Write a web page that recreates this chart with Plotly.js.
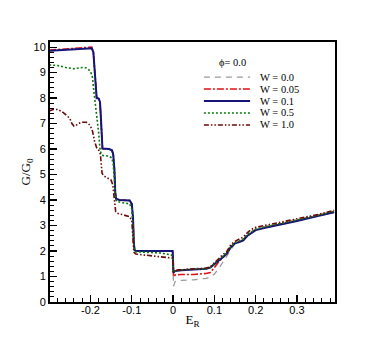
<!DOCTYPE html>
<html>
<head>
<meta charset="utf-8">
<script src="https://cdn.plot.ly/plotly-3.0.1.min.js"></script>
<style>
  body { margin: 0; background: #fff; }
  #graph { width: 382px; height: 340px; }
</style>
</head>
<body>
<div id="graph"></div>
<script>
// G/G0 versus E_R for several disorder strengths W, phi = 0.0

// shared step part (W = 0.0 and W = 0.1 lie on top of each other for E_R < 0)
var eNeg  = [-0.3, -0.25, -0.21, -0.197, -0.193, -0.19, -0.187, -0.185, -0.18, -0.177, -0.175, -0.173, -0.171,
             -0.155, -0.148, -0.145, -0.142, -0.14, -0.138, -0.13, -0.105, -0.1, -0.097, -0.095, -0.093, -0.09, -0.05, -0.001];
var gNeg  = [9.85, 9.9, 9.93, 9.95, 9.8, 9.0, 8.1, 8.0, 7.98, 7.85, 7.3, 6.2, 6.02,
             6.0, 5.95, 5.8, 5.2, 4.3, 4.05, 4.0, 3.98, 3.85, 3.3, 2.3, 2.03, 2.0, 2.0, 2.0];
var gNegRed = [9.88, 9.93, 9.98, 10.0, 9.8, 9.0, 8.1, 8.0, 7.98, 7.85, 7.3, 6.2, 6.02,
             6.0, 5.95, 5.8, 5.2, 4.3, 4.05, 4.0, 3.98, 3.85, 3.3, 2.3, 2.03, 2.0, 2.0, 2.0];

// E_R > 0 branch
var ePos   = [0.001, 0.005, 0.02, 0.05, 0.08, 0.09, 0.1, 0.11, 0.12, 0.13, 0.14, 0.15, 0.16, 0.17, 0.18, 0.19, 0.2, 0.22, 0.25, 0.3, 0.35, 0.39];
var gPos00 = [0.62, 0.8, 0.85, 0.87, 0.93, 0.98, 1.1, 1.3, 1.55, 1.8, 2.1, 2.3, 2.35, 2.42, 2.6, 2.72, 2.82, 2.9, 3.0, 3.18, 3.37, 3.52];
var gPos05 = [1.0, 1.06, 1.08, 1.08, 1.12, 1.16, 1.35, 1.57, 1.74, 1.89, 2.16, 2.31, 2.37, 2.44, 2.62, 2.74, 2.84, 2.92, 3.02, 3.2, 3.39, 3.54];
var gPos10 = [1.15, 1.22, 1.25, 1.28, 1.3, 1.35, 1.5, 1.62, 1.75, 1.9, 2.15, 2.3, 2.35, 2.42, 2.6, 2.72, 2.82, 2.9, 3.0, 3.18, 3.37, 3.52];
var gPos50 = [1.15, 1.22, 1.26, 1.29, 1.31, 1.36, 1.52, 1.66, 1.79, 1.93, 2.18, 2.33, 2.39, 2.47, 2.65, 2.77, 2.86, 2.94, 3.04, 3.22, 3.4, 3.56];

// W = 0.5
var e50 = [-0.3, -0.28, -0.26, -0.24, -0.22, -0.21, -0.2, -0.195, -0.192, -0.189, -0.186, -0.183, -0.18, -0.177, -0.174,
           -0.17, -0.155, -0.148, -0.145, -0.142, -0.14, -0.137, -0.125, -0.105, -0.1, -0.097, -0.095, -0.092,
           -0.08, -0.06, -0.03, -0.005, -0.001];
var g50 = [9.3, 9.28, 9.2, 9.15, 9.2, 9.18, 9.05, 8.8, 8.3, 7.9, 7.6, 7.2, 6.6, 6.0, 5.8,
           5.75, 5.72, 5.65, 5.4, 4.8, 4.1, 3.95, 3.9, 3.85, 3.65, 3.0, 2.2, 1.97,
           1.96, 1.95, 1.92, 1.85, 1.8];

// W = 1.0
var e100 = [-0.3, -0.29, -0.28, -0.27, -0.26, -0.25, -0.245, -0.24, -0.235, -0.23, -0.22, -0.21, -0.205, -0.2, -0.195,
            -0.19, -0.185, -0.18, -0.176, -0.174, -0.172, -0.168, -0.16, -0.15, -0.146, -0.142, -0.139, -0.135, -0.12,
            -0.105, -0.1, -0.097, -0.095, -0.09, -0.07, -0.04, -0.01, -0.001,
            0.001, 0.01, 0.05, 0.08, 0.09, 0.1, 0.11, 0.12, 0.13, 0.14, 0.15, 0.16, 0.17, 0.18, 0.19, 0.2, 0.22, 0.25, 0.3, 0.35, 0.39];
var g100 = [7.5, 7.55, 7.55, 7.48, 7.35, 7.2, 7.0, 6.9, 6.92, 7.0, 7.05, 7.05, 7.0, 6.9, 6.7,
            6.3, 6.05, 5.95, 5.8, 5.4, 5.05, 4.95, 4.88, 4.78, 4.6, 4.0, 3.55, 3.48, 3.42,
            3.35, 3.2, 2.5, 1.95, 1.88, 1.85, 1.8, 1.75, 1.72,
            1.2, 1.25, 1.3, 1.33, 1.38, 1.55, 1.72, 1.85, 1.98, 2.25, 2.38, 2.45, 2.55, 2.72, 2.85, 2.93, 3.0, 3.1, 3.27, 3.43, 3.6];

var names  = ['W = 0.0', 'W = 0.05', 'W = 0.1', 'W = 0.5', 'W = 1.0'];
var colors = ['#9a9a9a', '#e01010', '#14147a', '#0a7a0a', '#6a0a0a'];
var dashes = ['6px,5px', '7px,2px,2px,2px', 'solid', '2px,2px', '5px,2px,1.5px,2px,1.5px,2px'];
var widths = [1.3, 1.6, 2, 1.6, 1.6];

var xs = [eNeg.concat(ePos), eNeg.concat(ePos), eNeg.concat(ePos), e50.concat(ePos), e100];
var ys = [gNeg.concat(gPos00), gNegRed.concat(gPos05), gNeg.concat(gPos10), g50.concat(gPos50), g100];

var xTicks = [-0.2, -0.1, 0, 0.1, 0.2, 0.3];
var xTickText = ['-0.2', '-0.1', '0', '0.1', '0.2', '0.3'];

var data = [];
for (var i = 0; i < names.length; i++) {
  data.push({
    x: xs[i], y: ys[i], type: 'scatter', mode: 'lines', name: names[i],
    line: { color: colors[i], width: widths[i], dash: dashes[i] }
  });
}

// hand-made legend (tighter rows than the plotly legend allows)
var shapes = [], annotations = [];
var lx0 = 0.54, lx1 = 0.702, ly0 = 0.865, dly = 0.046;
for (i = 0; i < names.length; i++) {
  var yy = ly0 - i * dly;
  shapes.push({ type: 'line', xref: 'paper', yref: 'paper', x0: lx0, x1: lx1, y0: yy, y1: yy,
    line: { color: colors[i], width: widths[i], dash: dashes[i] } });
  annotations.push({ xref: 'paper', yref: 'paper', x: 0.73, y: yy, xanchor: 'left', yanchor: 'middle',
    text: names[i], showarrow: false, font: { family: 'Liberation Serif, Times New Roman, serif', size: 10.5, color: '#000' } });
}
annotations.push({ xref: 'paper', yref: 'paper', x: 0.639, y: 0.923, xanchor: 'center', yanchor: 'middle',
  text: 'ϕ= 0.0', showarrow: false, font: { family: 'Liberation Serif, Times New Roman, serif', size: 10.5, color: '#000' } });

var tickFont = { family: 'Liberation Sans, Arial, sans-serif', size: 11, color: '#000' };
var titleFont = { family: 'Liberation Serif, Times New Roman, serif', size: 13, color: '#000' };

var layout = {
  width: 382, height: 340,
  margin: { l: 50, r: 47, t: 42, b: 38 },
  paper_bgcolor: '#fff', plot_bgcolor: '#fff',
  showlegend: false,
  xaxis: {
    range: [-0.298, 0.392],
    tickmode: 'array', tickvals: xTicks, ticktext: xTickText,
    ticks: 'inside', ticklen: 7, tickwidth: 1.2, tickcolor: '#000',
    minor: { tickmode: 'linear', tick0: 0, dtick: 0.02, ticks: 'inside', ticklen: 4, tickwidth: 1, tickcolor: '#000' },
    showline: true, linewidth: 2, linecolor: '#000', mirror: true,
    showgrid: false, zeroline: false,
    tickfont: tickFont, ticklabelstandoff: -3,
    title: { text: 'E<sub>R</sub>', font: titleFont, standoff: 0 }
  },
  yaxis: {
    range: [0, 10.2],
    tickmode: 'linear', tick0: 0, dtick: 1,
    ticks: 'inside', ticklen: 7, tickwidth: 1.2, tickcolor: '#000',
    minor: { tickmode: 'linear', tick0: 0, dtick: 0.2, ticks: 'inside', ticklen: 4, tickwidth: 1, tickcolor: '#000' },
    showline: true, linewidth: 2, linecolor: '#000', mirror: true,
    showgrid: false, zeroline: false,
    tickfont: tickFont,
    title: { text: 'G/G<sub>0</sub>', font: titleFont, standoff: 0 }
  },
  shapes: shapes,
  annotations: annotations
};

Plotly.newPlot('graph', data, layout, { staticPlot: true, displayModeBar: false });
</script>
</body>
</html>
